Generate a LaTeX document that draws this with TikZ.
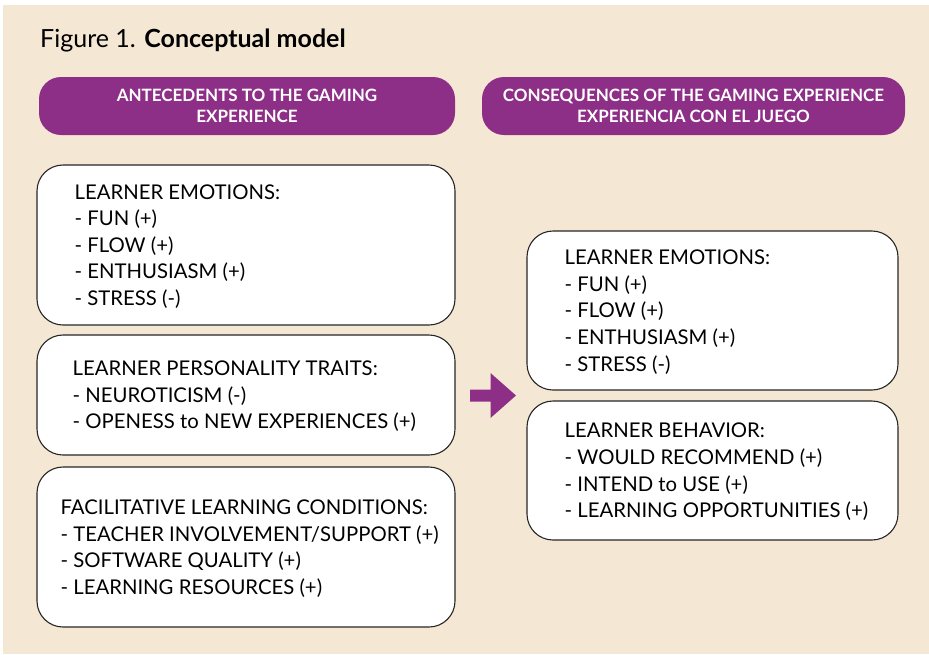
\documentclass[tikz,border=0pt]{standalone}
\usepackage{fontspec}
\setmainfont{Lato}
\usetikzlibrary{positioning}
\definecolor{paper}{RGB}{244,232,212}
\definecolor{purplehead}{RGB}{141,46,135}

\begin{document}
\begin{tikzpicture}[
    x=1pt, y=-1pt,
    header/.style={rectangle, rounded corners=22pt, fill=purplehead, text=white, align=center, minimum height=58pt, font=\bfseries\fontsize{17}{20.5}\selectfont},
    box/.style={rectangle, rounded corners=26pt, draw=black!85, line width=1.1pt, fill=white},
    boxtext/.style={align=left, inner sep=0pt, yshift=-1.5pt, font=\fontsize{20.3}{26.6}\selectfont}
]

% Background
\useasboundingbox (0,0) rectangle (929,654);
\fill[paper] (3,5) rectangle (929,654);

% Title
\node[anchor=base west, inner sep=0pt, font=\fontsize{25}{30}\selectfont] (title) at (40,47) {Figure 1. \textbf{Conceptual model}};

% Column headers
\node[header, minimum width=416pt] (ante) at (247,106) {ANTECEDENTS TO THE GAMING\\EXPERIENCE};
\node[header, minimum width=423pt] (cons) at (693.5,106) {CONSEQUENCES OF THE GAMING EXPERIENCE\\EXPERIENCIA CON EL JUEGO};

% Antecedents
\node[box, minimum width=418pt, minimum height=160pt] (emoin) at (246,245) {};
\node[boxtext, right=38pt of emoin.west] (emointxt) {LEARNER EMOTIONS:\\- FUN (+)\\- FLOW (+)\\- ENTHUSIASM (+)\\- STRESS (-)};

\node[box, minimum width=418pt, minimum height=120pt] (pers) at (246,395) {};
\node[boxtext, right=36pt of pers.west] (perstxt) {LEARNER PERSONALITY TRAITS:\\- NEUROTICISM (-)\\- OPENESS to NEW EXPERIENCES (+)};

\node[box, minimum width=418pt, minimum height=160pt] (cond) at (246,547) {};
\node[boxtext, right=24pt of cond.west] (condtxt) {FACILITATIVE LEARNING CONDITIONS:\\- TEACHER INVOLVEMENT/SUPPORT (+)\\- SOFTWARE QUALITY (+)\\- LEARNING RESOURCES (+)};

% Consequences
\node[box, minimum width=371pt, minimum height=159pt] (emoout) at (712.5,310.5) {};
\node[boxtext, right=38pt of emoout.west] (emoouttxt) {LEARNER EMOTIONS:\\- FUN (+)\\- FLOW (+)\\- ENTHUSIASM (+)\\- STRESS (-)};

\node[box, minimum width=371pt, minimum height=139pt] (behav) at (712.5,470.5) {};
\node[boxtext, right=38pt of behav.west] (behavtxt) {LEARNER BEHAVIOR:\\- WOULD RECOMMEND (+)\\- INTEND to USE (+)\\- LEARNING OPPORTUNITIES (+)};

% Block arrow
\fill[purplehead] (470,389.5) -- (490.5,389.5) -- (490.5,373) -- (516,395.5) -- (490.5,418) -- (490.5,401.5) -- (470,401.5) -- cycle;

\end{tikzpicture}
\end{document}
